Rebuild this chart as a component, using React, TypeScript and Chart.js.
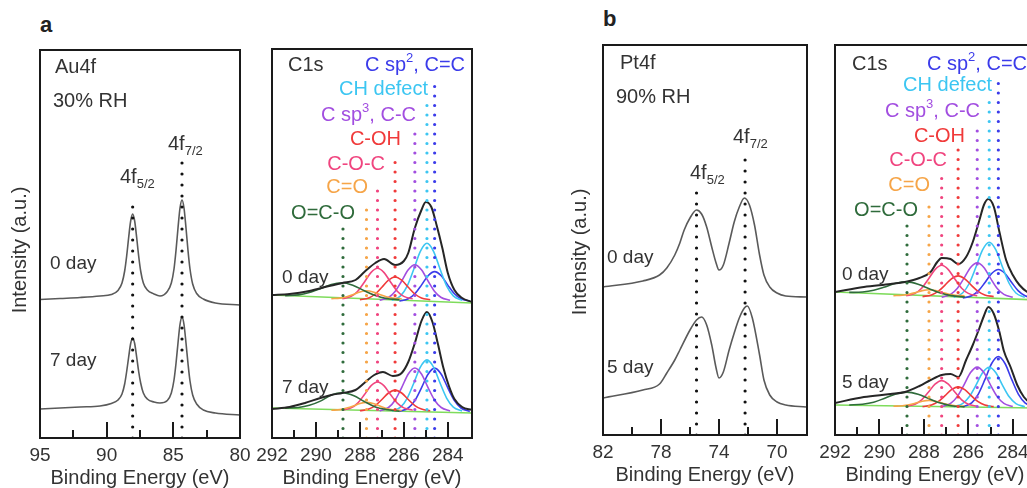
import React, { useEffect, useRef } from 'react';
import { Chart, registerables } from 'chart.js';

Chart.register(...registerables);

type Pt = [number, number];
const FONT = '"Liberation Sans", Arial, Helvetica, sans-serif';

// ---------------- Panel a (left): Au4f ----------------
const auTickLabels = [95, 90, 85, 80];
const auMajorTicks = [90, 85];
const auMinorTicks = [92.5, 87.5, 82.5];
const auPeakLines = [88.05, 84.35];
const auPeakTops = [241, 279];
const au0day: Pt[] = [[95,138.5],[93.5,139.5],[92,140.5],[90.5,142],[89.65,143.5],[89.15,147.6],[88.85,155],[88.65,167],[88.5,182],[88.35,200.5],[88.2,217],[88.05,224],[87.9,217],[87.75,200.5],[87.6,182],[87.45,167],[87.25,155],[86.95,148],[86.45,144],[86.0,142],[85.45,146.5],[85.15,155],[84.95,169],[84.8,187.5],[84.65,210],[84.5,230],[84.35,238],[84.2,230],[84.05,210],[83.9,187.5],[83.75,169],[83.55,154],[83.25,144.5],[82.75,139],[81.85,135],[80,133]];
const au7day: Pt[] = [[95,29],[93.5,30],[92,31],[90.5,32],[89.65,34.5],[89.15,38],[88.85,44],[88.65,54],[88.5,66.5],[88.35,81],[88.2,94.5],[88.05,100],[87.9,94.5],[87.75,81],[87.6,66.5],[87.45,55],[87.25,45],[86.95,39],[86.45,36],[86.0,35],[85.45,37.5],[85.15,45],[84.95,58],[84.8,74.5],[84.65,95],[84.5,113.5],[84.35,121],[84.2,113.5],[84.05,95],[83.9,74.5],[83.75,57],[83.55,43],[83.25,34],[82.75,28],[81.85,25],[80,23]];

// ---------------- C1s shared ----------------
const c1sTickLabels = [292, 290, 288, 286, 284];
const c1sMajorTicks = [290, 288, 286, 284];
const c1sMinorTicks = [291, 289, 287, 285];

// ---------------- Panel a (right): C1s ----------------
const aLinePos = [288.77, 287.7, 287.2, 286.4, 285.5, 284.95, 284.6];
const aLineTops = [211, 231, 256, 281, 308, 334, 358];
const a0Envelope: Pt[] = [[292,143],[291.2,144],[290.3,147],[289.4,152],[288.8,155],[288.2,158],[287.8,166],[287.3,175],[286.9,179],[286.4,173],[286.0,177],[285.8,185],[285.5,210],[285.2,228],[285.0,236],[284.75,231],[284.5,212],[284.25,190],[284.0,165],[283.7,148],[283.35,140],[282.9,136]];
const a0Baseline: Pt[] = [[292,143],[282.9,135]];
const a0Green: Pt[] = [[291.4,142.4],[290.8,143.1],[290.3,145.5],[289.8,149.3],[289.3,153.6],[288.8,155.2],[288.3,152.5],[287.8,147.3],[287.3,142.5],[286.8,139.5],[286.2,138.3]];
const a0Orange: Pt[] = [[289.3,139.3],[288.9,139.9],[288.6,141.3],[288.3,143.6],[288.0,146.1],[287.7,147.2],[287.4,146.1],[287.1,143.6],[286.8,141.3],[286.5,139.9],[286.1,139.3]];
const a0Pink: Pt[] = [[288.8,139.2],[288.4,141.6],[288.1,146.8],[287.8,155.8],[287.5,165.4],[287.2,169.7],[286.9,165.4],[286.6,155.8],[286.3,146.8],[286.0,141.6],[285.6,139.2]];
const a0Red: Pt[] = [[288.0,138.3],[287.6,140.1],[287.3,144.0],[287.0,150.7],[286.7,157.8],[286.4,161.0],[286.1,157.8],[285.8,150.7],[285.5,144.0],[285.2,140.1],[284.8,138.3]];
const a0Purple: Pt[] = [[287.1,137.7],[286.7,140.5],[286.4,146.6],[286.1,157.0],[285.8,168.2],[285.5,173.2],[285.2,168.2],[284.9,157.0],[284.6,146.6],[284.3,140.5],[283.9,137.7]];
const a0Cyan: Pt[] = [[286.55,137.6],[286.15,142.1],[285.85,151.9],[285.55,168.7],[285.25,186.7],[284.95,194.7],[284.65,186.7],[284.35,168.7],[284.05,151.9],[283.75,142.1],[283.35,137.6]];
const a0Blue: Pt[] = [[286.2,136.8],[285.8,139.2],[285.5,144.3],[285.2,152.9],[284.9,162.3],[284.6,166.4],[284.3,162.3],[284.0,152.9],[283.7,144.3],[283.4,139.2],[283.0,136.8]];
const a7Envelope: Pt[] = [[292,29],[291.2,31],[290.5,35],[289.8,40],[289.3,43],[288.8,45],[288.2,48],[287.8,55],[287.35,63],[286.95,66],[286.5,62],[286.1,65],[285.8,76],[285.5,95],[285.2,117],[284.95,126],[284.7,116],[284.45,94],[284.2,70],[283.95,52],[283.7,39],[283.35,31],[282.9,28]];
const a7Baseline: Pt[] = [[292,30],[282.9,25]];
const a7Green: Pt[] = [[291.4,29.9],[290.8,30.5],[290.3,32.7],[289.8,36.9],[289.3,43.0],[288.8,45.2],[288.3,42.4],[287.8,36.5],[287.3,31.1],[286.8,28.5],[286.2,26.8]];
const a7Orange: Pt[] = [[289.3,27.7],[288.9,28.4],[288.6,29.9],[288.3,32.0],[288.0,34.5],[287.7,35.6],[287.4,34.5],[287.1,32.0],[286.8,29.6],[286.5,28.2],[286.1,27.5]];
const a7Pink: Pt[] = [[288.8,27.8],[288.4,30.1],[288.1,34.9],[287.8,43.2],[287.5,52.1],[287.2,56.0],[286.9,52.1],[286.6,43.2],[286.3,34.9],[286.0,30.1],[285.6,27.8]];
const a7Red: Pt[] = [[288.0,27.2],[287.6,28.9],[287.3,32.4],[287.0,38.5],[286.7,45.0],[286.4,47.9],[286.1,45.0],[285.8,38.5],[285.5,32.4],[285.2,28.9],[284.8,27.2]];
const a7Purple: Pt[] = [[287.1,27.1],[286.7,30.5],[286.4,37.8],[286.1,50.4],[285.8,64.0],[285.5,70.0],[285.2,64.0],[284.9,50.4],[284.6,37.8],[284.3,30.5],[283.9,27.1]];
const a7Cyan: Pt[] = [[286.55,26.9],[286.15,30.9],[285.85,39.7],[285.55,54.8],[285.25,70.9],[284.95,78.1],[284.65,70.9],[284.35,54.8],[284.05,39.7],[283.75,30.9],[283.35,26.9]];
const a7Blue: Pt[] = [[286.2,26.6],[285.8,30.0],[285.5,37.4],[285.2,50.1],[284.9,63.8],[284.6,69.9],[284.3,63.8],[284.0,50.1],[283.7,37.4],[283.4,30.0],[283.0,26.6]];

// ---------------- Panel b (left): Pt4f ----------------
const ptTickLabels = [82, 78, 74, 70];
const ptMajorTicks = [78, 74, 70];
const ptMinorTicks = [80, 76, 72];
const ptPeakLines = [75.55, 72.2];
const ptPeakTops = [248, 283];
const pt0day: Pt[] = [[82,148],[79.25,154],[78.1,160],[77.6,167],[77.05,180],[76.7,192],[76.4,205],[76.0,217],[75.55,225],[75.2,221],[74.85,208],[74.5,188],[74.2,172],[74.0,165],[73.7,170],[73.3,192],[72.95,213],[72.6,228],[72.25,237],[71.9,230],[71.55,210],[71.2,180],[70.9,160],[70.5,148],[70.0,142],[69.4,139],[68,138]];
const pt5day: Pt[] = [[82,37],[79.25,45],[78.1,51],[77.6,62],[77.05,75],[76.7,85],[76.0,105],[75.55,115],[75.2,118],[74.85,110],[74.5,90],[74.2,67],[74.0,57],[73.7,63],[73.3,85],[72.95,102],[72.6,117],[72.25,127],[72.05,129],[71.7,117],[71.2,80],[70.9,55],[70.5,40],[70.0,33],[69.4,30],[68,28]];

// ---------------- Panel b (right): C1s ----------------
const bLinePos = [288.76, 287.77, 287.2, 286.46, 285.6, 285.06, 284.65];
const bLineTops = [212, 235, 257, 288, 308, 335, 360];
const b0Envelope: Pt[] = [[292,143],[290.7,148],[289.5,151],[288.85,153],[288.2,157],[287.7,163],[287.4,173],[287.2,177],[286.8,176],[286.45,171],[286.1,178],[285.8,193],[285.5,215],[285.3,230],[285.1,236],[284.85,228],[284.6,203],[284.3,175],[284.0,160],[283.7,150],[283.35,143],[282.9,139]];
const b0Baseline: Pt[] = [[292,143],[282.9,135]];
const b0Green: Pt[] = [[291.36,142.6],[290.76,143],[290.26,144.7],[289.76,148],[289.26,151.7],[288.76,153.1],[288.26,150.8],[287.76,146.2],[287.26,142],[286.76,139.4],[286.16,138]];
const b0Orange: Pt[] = [[289.37,139.3],[288.97,139.8],[288.67,140.8],[288.37,142.5],[288.07,144.4],[287.77,145.2],[287.47,144.4],[287.17,142.5],[286.87,140.8],[286.57,139.8],[286.17,139.3]];
const b0Pink: Pt[] = [[288.8,139.2],[288.4,141.6],[288.1,146.8],[287.8,155.8],[287.5,165.4],[287.2,169.7],[286.9,165.4],[286.6,155.8],[286.3,146.8],[286.0,141.6],[285.6,139.2]];
const b0Red: Pt[] = [[288.06,138.4],[287.66,140.1],[287.36,143.6],[287.06,149.7],[286.76,156.2],[286.46,159.1],[286.16,156.2],[285.86,149.7],[285.56,143.6],[285.26,140.1],[284.86,138.4]];
const b0Purple: Pt[] = [[287.2,137.8],[286.8,140.6],[286.5,146.5],[286.2,156.6],[285.9,167.5],[285.6,172.3],[285.3,167.5],[285.0,156.6],[284.7,146.5],[284.4,140.6],[284.0,137.8]];
const b0Cyan: Pt[] = [[286.66,137.6],[286.26,142],[285.96,151.5],[285.66,167.7],[285.36,185.1],[285.06,192.8],[284.76,185.1],[284.46,167.7],[284.16,151.5],[283.86,142],[283.46,137.6]];
const b0Blue: Pt[] = [[286.25,136.9],[285.85,139.2],[285.55,144.1],[285.25,152.5],[284.95,161.5],[284.65,165.5],[284.35,161.5],[284.05,152.5],[283.75,144.1],[283.45,139.2],[283.05,136.9]];
const b5Envelope: Pt[] = [[292,32],[290.7,38],[289.5,41],[288.85,43],[288.2,49],[287.7,55],[287.2,60],[286.8,61],[286.45,58],[286.1,75],[285.8,90],[285.5,107],[285.3,119],[285.1,128],[284.85,121],[284.6,103],[284.4,84],[284.1,68],[283.8,50],[283.5,38],[283.2,32],[282.9,30]];
const b5Baseline: Pt[] = [[292,30],[282.9,27]];
const b5Green: Pt[] = [[291.36,30],[290.76,30.8],[290.26,32.8],[289.76,36.8],[289.26,41.1],[288.76,42.9],[288.26,40.7],[287.76,36.2],[287.26,32],[286.76,29.3],[286.16,28.2]];
const b5Orange: Pt[] = [[289.37,28.7],[288.97,29.2],[288.67,30.2],[288.37,31.9],[288.07,33.8],[287.77,34.6],[287.47,33.8],[287.17,31.9],[286.87,30.2],[286.57,29.2],[286.17,28.7]];
const b5Pink: Pt[] = [[288.8,28.8],[288.4,30.8],[288.1,35.2],[287.8,42.7],[287.5,50.8],[287.2,54.4],[286.9,50.8],[286.6,42.7],[286.3,35.2],[286.0,30.8],[285.6,28.8]];
const b5Red: Pt[] = [[288.06,28.4],[287.66,30],[287.36,33.3],[287.06,39.1],[286.76,45.3],[286.46,48.1],[286.16,45.3],[285.86,39.1],[285.56,33.3],[285.26,30],[284.86,28.4]];
const b5Purple: Pt[] = [[287.2,28.5],[286.8,31.6],[286.5,38.4],[286.2,49.9],[285.9,62.4],[285.6,67.9],[285.3,62.4],[285.0,49.9],[284.7,38.4],[284.4,31.6],[284.0,28.5]];
const b5Cyan: Pt[] = [[286.66,28.3],[286.26,31.4],[285.96,38.2],[285.66,49.7],[285.36,62.2],[285.06,67.7],[284.76,62.2],[284.46,49.7],[284.16,38.2],[283.86,31.4],[283.46,28.3]];
const b5Blue: Pt[] = [[286.25,28.3],[285.85,32.2],[285.55,40.9],[285.25,55.6],[284.95,71.5],[284.65,78.5],[284.35,71.5],[284.05,55.6],[283.75,40.9],[283.45,32.2],[283.05,28.3]];

// ---------------- colours ----------------
const COL = {
  text: '#333333',
  frame: '#1a1a1a',
  spec: '#5a5a5a',
  env: '#262626',
  dkgreen: '#2f6b3b',
  orange: '#f6a548',
  pink: '#f0457f',
  red: '#f03a3a',
  purple: '#a24ee0',
  cyan: '#3cc6f2',
  blue: '#3b3bea',
  lime: '#7fdc5c',
};
const compColors = [COL.dkgreen, COL.orange, COL.pink, COL.red, COL.purple, COL.cyan, COL.blue];

interface Seg { t: string; sub?: boolean; sup?: boolean }
interface Label { segs: Seg[]; x: number; y: number; color: string; align?: 'left' | 'right' | 'center'; size?: number; rotate?: boolean; bold?: boolean }
interface Curve { data: Pt[]; color: string; width: number; dotted?: boolean; gap?: number; smooth?: boolean }
interface PanelCfg {
  id: string; left: number; top: number; w: number; h: number;
  xMin: number; xMax: number; tickLabels: number[]; major: number[]; minor: number[];
  curves: Curve[]; labels: Label[]; padL: number; padR: number; padT: number;
}

const S = (t: string): Seg => ({ t });

function vline(x: number, top: number, color: string, gap: number): Curve {
  return { data: [[x, 0], [x, top]], color, width: 3.2, dotted: true, gap };
}

function drawRich(ctx: CanvasRenderingContext2D, segs: Seg[], x: number, y: number, color: string, size: number, align: string, bold?: boolean) {
  const parts = segs.map((s) => {
    const sz = s.sub || s.sup ? Math.round(size * 0.66) : size;
    ctx.font = `${bold ? 'bold ' : ''}${sz}px ${FONT}`;
    return { ...s, sz, w: ctx.measureText(s.t).width };
  });
  const total = parts.reduce((a, p) => a + p.w, 0);
  let cx = align === 'right' ? x - total : align === 'center' ? x - total / 2 : x;
  ctx.fillStyle = color;
  ctx.textBaseline = 'middle';
  ctx.textAlign = 'left';
  for (const p of parts) {
    ctx.font = `${bold ? 'bold ' : ''}${p.sz}px ${FONT}`;
    const dy = p.sub ? size * 0.36 : p.sup ? -size * 0.33 : 0;
    ctx.fillText(p.t, cx, y + dy);
    cx += p.w;
  }
}

function makeDecor(cfg: PanelCfg) {
  return {
    id: 'decor_' + cfg.id,
    afterDatasetsDraw(chart: any) {
      const { ctx, chartArea: a, scales } = chart;
      const xs = scales.x;
      ctx.save();
      ctx.strokeStyle = COL.frame;
      ctx.lineWidth = 2;
      ctx.beginPath();
      for (const v of cfg.major) {
        const px = Math.round(xs.getPixelForValue(v));
        ctx.moveTo(px, a.bottom);
        ctx.lineTo(px, a.bottom - 16);
      }
      for (const v of cfg.minor) {
        const px = Math.round(xs.getPixelForValue(v));
        ctx.moveTo(px, a.bottom);
        ctx.lineTo(px, a.bottom - 8);
      }
      ctx.stroke();
      ctx.strokeRect(a.left, a.top, a.right - a.left, a.bottom - a.top);
      for (const l of cfg.labels) {
        const size = l.size ?? 20;
        const x = a.left + l.x;
        const y = a.top + l.y;
        if (l.rotate) {
          ctx.save();
          ctx.translate(x, y);
          ctx.rotate(-Math.PI / 2);
          drawRich(ctx, l.segs, 0, 0, l.color, size, 'center');
          ctx.restore();
        } else {
          drawRich(ctx, l.segs, x, y, l.color, size, l.align ?? 'left', l.bold);
        }
      }
      ctx.restore();
    },
  };
}

function Panel({ cfg }: { cfg: PanelCfg }) {
  const ref = useRef<HTMLCanvasElement>(null);
  const AXIS_H = 56;
  const cw = cfg.w + cfg.padL + cfg.padR;
  const chh = cfg.h + cfg.padT + AXIS_H;
  useEffect(() => {
    const canvas = ref.current!;
    const chart = new Chart(canvas, {
      type: 'line',
      data: {
        datasets: cfg.curves.map((c) => ({
          data: c.data.map(([x, y]) => ({ x, y })),
          borderColor: c.color,
          borderWidth: c.width,
          borderDash: c.dotted ? [0, c.gap ?? 10] : [],
          borderCapStyle: c.dotted ? 'round' : 'butt',
          pointRadius: 0,
          fill: false,
          tension: 0,
          cubicInterpolationMode: c.smooth ? 'monotone' : 'default',
        })) as any,
      },
      options: {
        responsive: false,
        animation: false,
        devicePixelRatio: 1,
        events: [],
        layout: { padding: { left: cfg.padL, right: cfg.padR, top: cfg.padT, bottom: 0 } },
        plugins: { legend: { display: false }, tooltip: { enabled: false } },
        scales: {
          x: {
            type: 'linear',
            reverse: true,
            min: cfg.xMin,
            max: cfg.xMax,
            grid: { display: false },
            border: { display: false },
            ticks: { font: { family: FONT, size: 19 }, color: COL.text, padding: -2, maxRotation: 0, autoSkip: false },
            title: { display: true, text: 'Binding Energy (eV)', font: { family: FONT, size: 20 }, color: COL.text, padding: { top: 0, bottom: 4 } },
            afterBuildTicks: (s: any) => { s.ticks = cfg.tickLabels.map((v) => ({ value: v })); },
            afterFit: (s: any) => { s.height = AXIS_H; },
          },
          y: { type: 'linear', display: false, min: 0, max: cfg.h },
        },
      } as any,
      plugins: [makeDecor(cfg)],
    });
    return () => chart.destroy();
  }, [cfg]);
  return (
    <canvas
      ref={ref}
      width={cw}
      height={chh}
      style={{ position: 'absolute', left: cfg.left - cfg.padL, top: cfg.top - cfg.padT, width: cw, height: chh }}
    />
  );
}

const dayLabel = (t: string, x: number, y: number): Label => ({ segs: [S(t)], x, y, color: COL.text, size: 19 });

const c1sLabels = (pos: number[][]): Label[] => [
  { segs: [S('C sp'), { t: '2', sup: true }, S(', C=C')], x: pos[0][0], y: pos[0][1], color: COL.blue, align: pos[0][2] ? 'right' : 'left' },
  { segs: [S('CH defect')], x: pos[1][0], y: pos[1][1], color: COL.cyan, align: 'right' },
  { segs: [S('C sp'), { t: '3', sup: true }, S(', C-C')], x: pos[2][0], y: pos[2][1], color: COL.purple, align: 'right' },
  { segs: [S('C-OH')], x: pos[3][0], y: pos[3][1], color: COL.red, align: 'right' },
  { segs: [S('C-O-C')], x: pos[4][0], y: pos[4][1], color: COL.pink, align: 'right' },
  { segs: [S('C=O')], x: pos[5][0], y: pos[5][1], color: COL.orange, align: 'right' },
  { segs: [S('O=C-O')], x: pos[6][0], y: pos[6][1], color: COL.dkgreen, align: 'right' },
];

function c1sCurves(lines: number[], tops: number[], sets: Pt[][][], baselines: Pt[][], envs: Pt[][]): Curve[] {
  const out: Curve[] = [];
  lines.forEach((x, i) => out.push(vline(x, tops[i], compColors[i], 9.5)));
  envs.forEach((e) => out.push({ data: e, color: COL.env, width: 2, smooth: true }));
  sets.forEach((comps) => comps.forEach((c, i) => out.push({ data: c, color: compColors[i], width: 1.6, smooth: true })));
  baselines.forEach((b) => out.push({ data: b, color: COL.lime, width: 1.6 }));
  return out;
}

const panelAu: PanelCfg = {
  id: 'au', left: 40, top: 50, w: 200, h: 388, xMin: 80, xMax: 95,
  tickLabels: auTickLabels, major: auMajorTicks, minor: auMinorTicks, padL: 40, padR: 25, padT: 10,
  curves: [
    ...auPeakLines.map((x, i) => vline(x, auPeakTops[i], '#111111', 11)),
    { data: au0day, color: COL.spec, width: 1.6, smooth: true },
    { data: au7day, color: COL.spec, width: 1.6, smooth: true },
  ],
  labels: [
    { segs: [S('Au4f')], x: 15, y: 17, color: COL.text },
    { segs: [S('30% RH')], x: 13, y: 51, color: COL.text },
    { segs: [S('4f'), { t: '7/2', sub: true }], x: 128, y: 94, color: COL.text },
    { segs: [S('4f'), { t: '5/2', sub: true }], x: 80, y: 127, color: COL.text },
    dayLabel('0 day', 10, 214),
    dayLabel('7 day', 10, 311),
    { segs: [S('Intensity (a.u.)')], x: -20, y: 200, color: COL.text, rotate: true },
  ],
};

const panelC1sA: PanelCfg = {
  id: 'c1sa', left: 272, top: 49, w: 200, h: 389, xMin: 282.9, xMax: 292,
  tickLabels: c1sTickLabels, major: c1sMajorTicks, minor: c1sMinorTicks, padL: 30, padR: 25, padT: 10,
  curves: c1sCurves(aLinePos, aLineTops,
    [[a0Green, a0Orange, a0Pink, a0Red, a0Purple, a0Cyan, a0Blue], [a7Green, a7Orange, a7Pink, a7Red, a7Purple, a7Cyan, a7Blue]],
    [a0Baseline, a7Baseline], [a0Envelope, a7Envelope]),
  labels: [
    { segs: [S('C1s')], x: 16, y: 16, color: COL.text },
    ...c1sLabels([[193, 16, 1], [156, 40], [144, 66], [129, 90], [113, 115], [96, 138], [83, 164]]),
    dayLabel('0 day', 10, 229),
    dayLabel('7 day', 10, 339),
  ],
};

const panelPt: PanelCfg = {
  id: 'pt', left: 603, top: 45, w: 204, h: 390, xMin: 67.93, xMax: 82,
  tickLabels: ptTickLabels, major: ptMajorTicks, minor: ptMinorTicks, padL: 40, padR: 25, padT: 10,
  curves: [
    ...ptPeakLines.map((x, i) => vline(x, ptPeakTops[i], '#111111', 11)),
    { data: pt0day, color: COL.spec, width: 1.6, smooth: true },
    { data: pt5day, color: COL.spec, width: 1.6, smooth: true },
  ],
  labels: [
    { segs: [S('Pt4f')], x: 17, y: 18, color: COL.text },
    { segs: [S('90% RH')], x: 13, y: 52, color: COL.text },
    { segs: [S('4f'), { t: '7/2', sub: true }], x: 130, y: 92, color: COL.text },
    { segs: [S('4f'), { t: '5/2', sub: true }], x: 87, y: 128, color: COL.text },
    dayLabel('0 day', 4, 213),
    dayLabel('5 day', 4, 323),
    { segs: [S('Intensity (a.u.)')], x: -23, y: 207, color: COL.text, rotate: true },
  ],
};

const panelC1sB: PanelCfg = {
  id: 'c1sb', left: 835, top: 45, w: 200, h: 390, xMin: 283.0, xMax: 292,
  tickLabels: c1sTickLabels, major: c1sMajorTicks, minor: c1sMinorTicks, padL: 30, padR: 25, padT: 10,
  curves: c1sCurves(bLinePos, bLineTops,
    [[b0Green, b0Orange, b0Pink, b0Red, b0Purple, b0Cyan, b0Blue], [b5Green, b5Orange, b5Pink, b5Red, b5Purple, b5Cyan, b5Blue]],
    [b0Baseline, b5Baseline], [b0Envelope, b5Envelope]),
  labels: [
    { segs: [S('C1s')], x: 17, y: 19, color: COL.text },
    ...c1sLabels([[92, 19, 0], [157, 40], [145, 66], [130, 91], [112, 115], [95, 140], [83, 165]]),
    dayLabel('0 day', 7, 230),
    dayLabel('5 day', 7, 338),
  ],
};

const panels = [panelAu, panelC1sA, panelPt, panelC1sB];

export default function App() {
  return (
    <div style={{ position: 'fixed', left: 0, top: 0, width: 1027, height: 488, overflow: 'hidden', background: '#ffffff' }}>
      {panels.map((p) => <Panel key={p.id} cfg={p} />)}
      <div style={{ position: 'absolute', left: 40, top: 12, font: `bold 22px ${FONT}`, color: '#222', lineHeight: '26px' }}>a</div>
      <div style={{ position: 'absolute', left: 603, top: 6, font: `bold 22px ${FONT}`, color: '#222', lineHeight: '26px' }}>b</div>
    </div>
  );
}
